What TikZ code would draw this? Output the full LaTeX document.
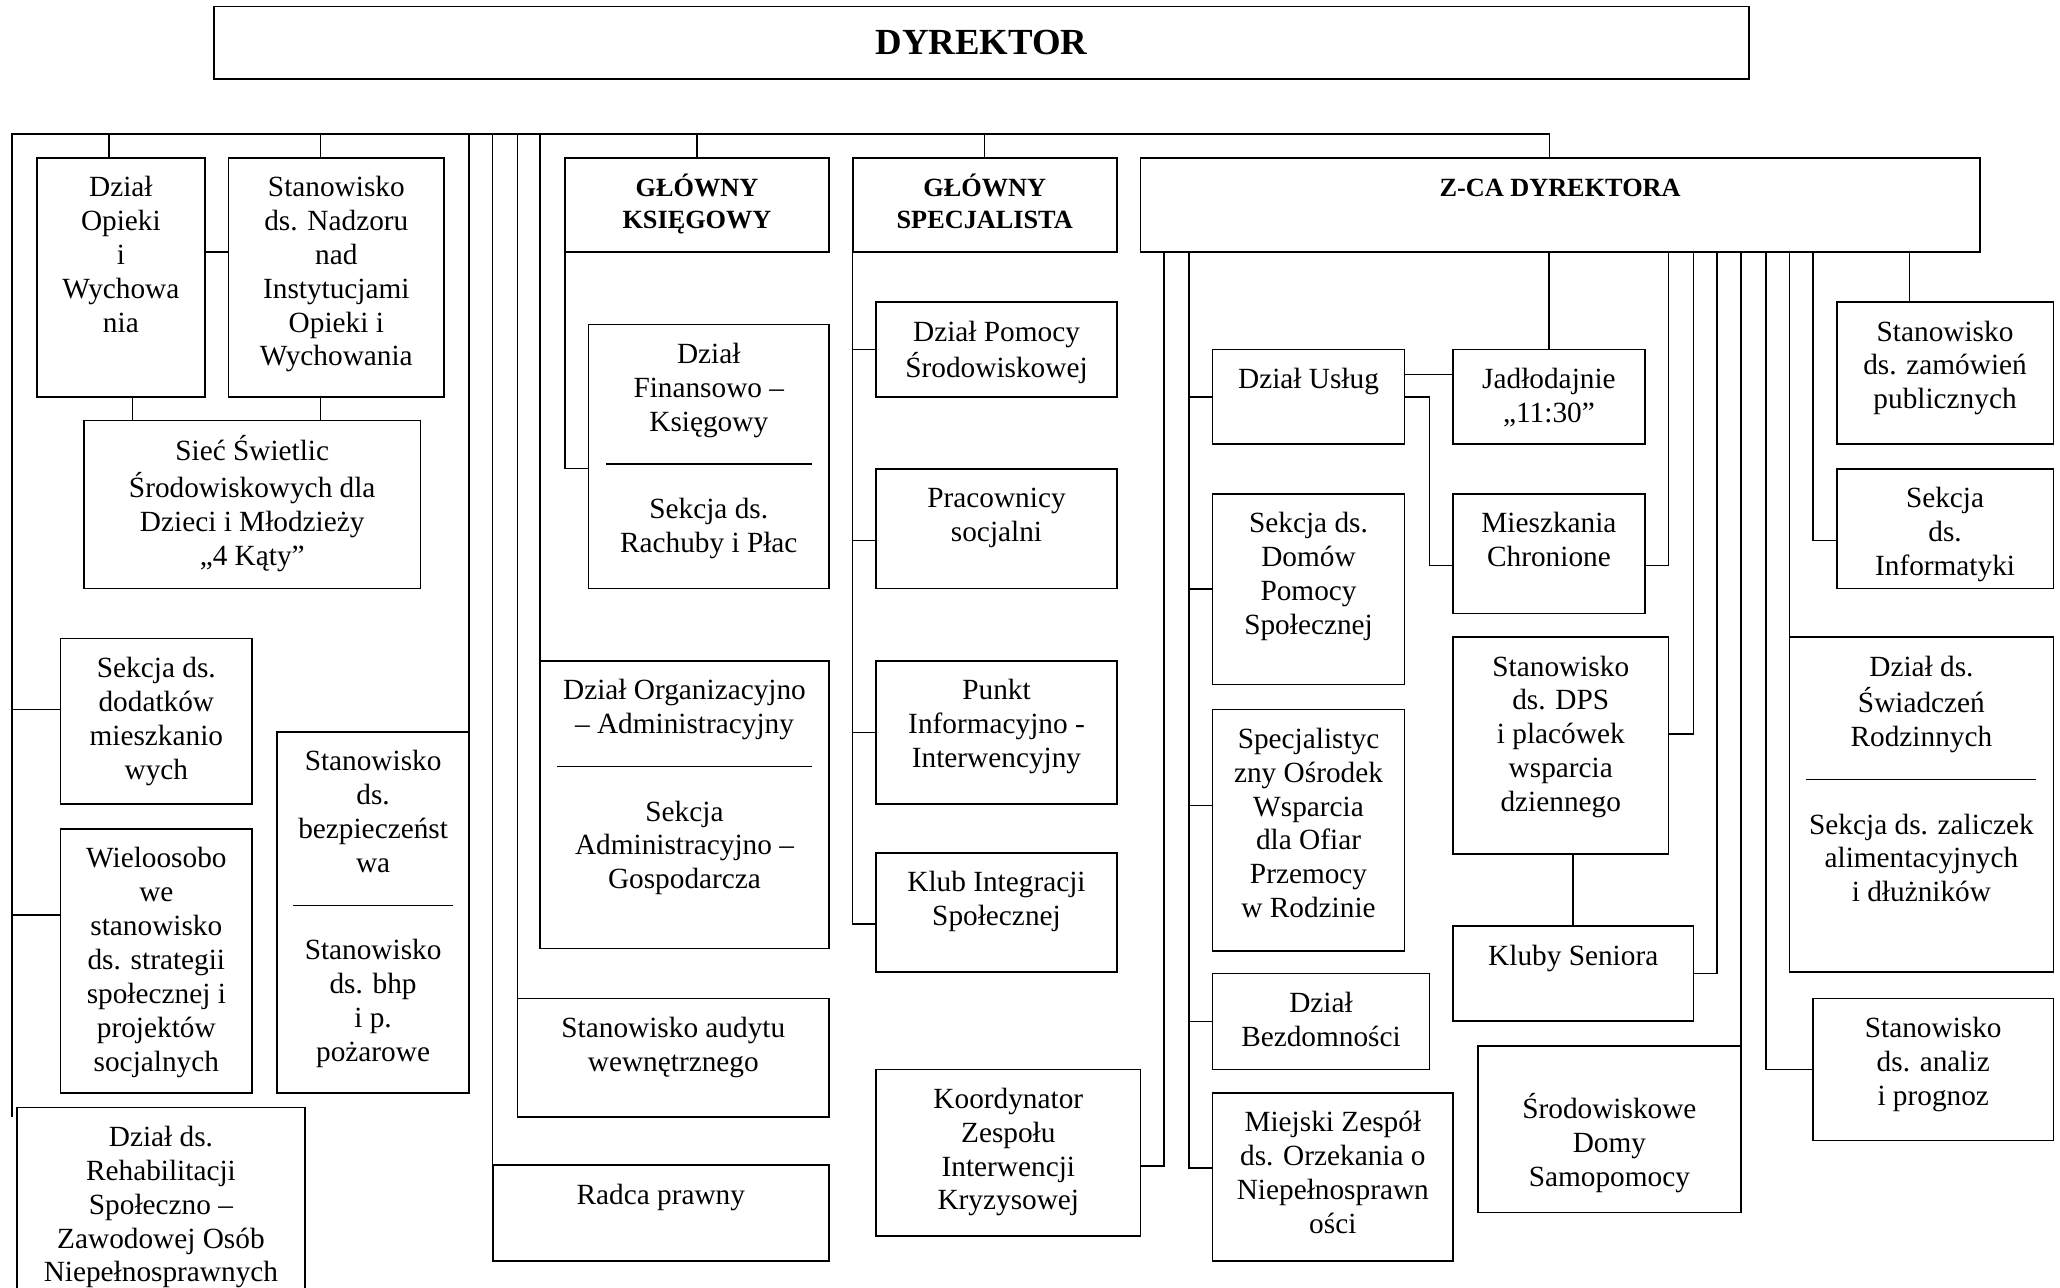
\documentclass[tikz,border=0pt]{standalone}
\usepackage{fontspec}
\setmainfont{Liberation Serif}
\tikzset{
	box/.style={rectangle, draw=black, line width=1.3pt, inner sep=0pt, outer sep=0pt, anchor=north west},
	link/.style={line width=1.2pt},
}
% text from the top of a box: [gap]{width}{height}{lines}
\newcommand{\bx}[4][11.5pt]{\parbox[c][#3][t]{#2}{\centering\vspace*{#1}\strut #4}}
\newcommand{\divrule}[1]{\\\rule{#1}{1.2pt}\\[15pt]}

\begin{document}
\begin{tikzpicture}[x=1pt, y=-1pt, every node/.style={font=\fontsize{22.3}{25.8}\selectfont}]
\useasboundingbox (0,0) rectangle (1568,980);

\node [box] (dyr) at (163,5) {\bx[18pt]{1168pt}{55pt}{\bfseries\fontsize{28}{33}\selectfont DYREKTOR}};

% left part
\node [box] (opieka) at (28,120) {\bx{128pt}{182pt}{Dział\\Opieki\\i\\Wychowa\\nia}};
\node [box] (nadzor) at (174,120) {\bx{164pt}{182pt}{Stanowisko\\ds. Nadzoru\\nad\\Instytucjami\\Opieki i\\Wychowania}};
\node [box] (swietlice) at (64,320) {\bx{256pt}{128pt}{Sieć Świetlic\\Środowiskowych dla\\Dzieci i Młodzieży\\„4 Kąty”}};
\node [box] (dodatki) at (46,486) {\bx{146pt}{126pt}{Sekcja ds.\\dodatków\\mieszkanio\\wych}};
\node [box] (strategia) at (46,631) {\bx{146pt}{201pt}{Wieloosobo\\we\\stanowisko\\ds. strategii\\społecznej i\\projektów\\socjalnych}};
\node [box] (bezp) at (211,557) {\bx{146pt}{275pt}{Stanowisko\\ds.\\bezpieczeńst\\wa\divrule{122pt}Stanowisko\\ds. bhp\\i p.\\pożarowe}};
\node [box] (rehab) at (13,843) {\bx{219pt}{147pt}{Dział ds.\\Rehabilitacji\\Społeczno –\\Zawodowej Osób\\Niepełnosprawnych}};

% middle part
\node [box] (ksieg) at (430,120) {\bx{201pt}{72pt}{\bfseries\fontsize{20}{24}\selectfont GŁÓWNY\\KSIĘGOWY}};
\node [box] (finanse) at (448,247) {\bx{183pt}{201pt}{Dział\\Finansowo –\\Księgowy\divrule{157pt}Sekcja ds.\\Rachuby i Płac}};
\node [box] (organiz) at (411,503) {\bx{220pt}{219pt}{Dział Organizacyjno\\– Administracyjny\divrule{194pt}Sekcja\\Administracyjno –\\Gospodarcza}};
\node [box] (audyt) at (394,760) {\bx{237pt}{90pt}{Stanowisko audytu\\wewnętrznego}};
\node [box] (radca) at (375,887) {\bx{256pt}{73pt}{Radca prawny}};

\node [box] (spec) at (649,120) {\bx{201pt}{72pt}{\bfseries\fontsize{20}{24}\selectfont GŁÓWNY\\SPECJALISTA}};
\node [box] (pomoc) at (667,230) {\bx{183pt}{72pt}{Dział Pomocy\\Środowiskowej}};
\node [box] (pracownicy) at (667,357) {\bx{183pt}{91pt}{Pracownicy\\socjalni}};
\node [box] (punkt) at (667,503) {\bx{183pt}{109pt}{Punkt\\Informacyjno -\\Interwencyjny}};
\node [box] (klub) at (667,649) {\bx{183pt}{91pt}{Klub Integracji\\Społecznej}};
\node [box] (koord) at (667,814) {\bx{201pt}{127pt}{Koordynator\\Zespołu\\Interwencji\\Kryzysowej}};

% deputy and below
\node [box] (zca) at (868,120) {\bx{639pt}{72pt}{\bfseries\fontsize{20}{24}\selectfont Z-CA DYREKTORA}};
\node [box] (uslugi) at (923,266) {\bx{146pt}{72pt}{Dział Usług}};
\node [box] (domy) at (923,376) {\bx{146pt}{145pt}{Sekcja ds.\\Domów\\Pomocy\\Społecznej}};
\node [box] (osrodek) at (923,540) {\bx{146pt}{184pt}{Specjalistyc\\zny Ośrodek\\Wsparcia\\dla Ofiar\\Przemocy\\w Rodzinie}};
\node [box] (bezdom) at (923,741) {\bx{165pt}{73pt}{Dział\\Bezdomności}};
\node [box] (miejski) at (923,832) {\bx{183pt}{128pt}{Miejski Zespół\\ds. Orzekania o\\Niepełnosprawn\\ości}};
\node [box] (jadlo) at (1106,266) {\bx{146pt}{72pt}{Jadłodajnie\\„11:30”}};
\node [box] (mieszk) at (1106,376) {\bx{146pt}{91pt}{Mieszkania\\Chronione}};
\node [box] (dps) at (1106,485) {\bx{164pt}{165pt}{Stanowisko\\ds. DPS\\i placówek\\wsparcia\\dziennego}};
\node [box] (kluby) at (1106,705) {\bx{183pt}{72pt}{Kluby Seniora}};
\node [box] (sds) at (1125,796) {\bx[36pt]{200pt}{127pt}{Środowiskowe\\Domy\\Samopomocy}};

% right part
\node [box] (zamow) at (1398,230) {\bx{165pt}{108pt}{Stanowisko\\ds. zamówień\\publicznych}};
\node [box] (inform) at (1398,357) {\bx{165pt}{91pt}{Sekcja\\ds.\\Informatyki}};
\node [box] (swiadcz) at (1362,485) {\bx{201pt}{255pt}{Dział ds.\\Świadczeń\\Rodzinnych\divrule{175pt}Sekcja ds. zaliczek\\alimentacyjnych\\i dłużników}};
\node [box] (analiz) at (1380,760) {\bx{183pt}{108pt}{Stanowisko\\ds. analiz\\i prognoz}};

% main line
\coordinate (lft) at (9,102);
\draw[link] ([xshift=-4pt,yshift=-7pt]rehab.north west) -- (lft) -| ([xshift=-8pt]zca.north);
\draw[link] ([xshift=-9pt]opieka.north) -- ([xshift=-9pt]opieka.north |- lft);
\draw[link] ([xshift=-12pt]nadzor.north) -- ([xshift=-12pt]nadzor.north |- lft);
\draw[link] (bezp.north east) -- (bezp.north east |- lft);
\draw[link] (radca.north west) -- (radca.north west |- lft);
\draw[link] (audyt.north west) -- (audyt.north west |- lft);
\draw[link] (organiz.north west) -- (organiz.north west |- lft);
\draw[link] (ksieg.north) -- (ksieg.north |- lft);
\draw[link] (spec.north) -- (spec.north |- lft);

% left branches
\draw[link] ([yshift=9pt]dodatki.west) -- ([yshift=9pt]dodatki.west -| lft);
\draw[link] ([yshift=35pt]strategia.west) -- ([yshift=35pt]strategia.west -| lft);
\draw[link] ([yshift=19pt]opieka.east) -- ([yshift=19pt]nadzor.west);
\draw[link] ([xshift=9pt]opieka.south) -- ([xshift=9pt]opieka.south |- swietlice.north);
\draw[link] ([xshift=-12pt]nadzor.south) -- ([xshift=-12pt]nadzor.south |- swietlice.north);

% accountant and specialist
\draw[link] (ksieg.south west) |- ([yshift=-9pt]finanse.west);
\draw[link] (spec.south west) |- ([yshift=-9pt]klub.west);
\draw[link] (pomoc.west) -- (pomoc.west -| spec.south west);
\draw[link] ([yshift=-9pt]pracownicy.west) -- ([yshift=-9pt]pracownicy.west -| spec.south west);
\draw[link] (punkt.west) -- (punkt.west -| spec.south west);

% deputy, left side
\draw[link] ([xshift=18pt]zca.south west) |- ([yshift=-10pt]koord.east);
\coordinate (ztrunk) at ([xshift=37pt]zca.south west);
\draw[link] (ztrunk) |- ([yshift=7pt]miejski.west);
\draw[link] (uslugi.west) -- (uslugi.west -| ztrunk);
\draw[link] (domy.west) -- (domy.west -| ztrunk);
\draw[link] ([yshift=19pt]osrodek.west) -- ([yshift=19pt]osrodek.west -| ztrunk);
\draw[link] (bezdom.west) -- (bezdom.west -| ztrunk);

% services
\draw[link] ([yshift=17pt]uslugi.east) -- ([yshift=17pt]uslugi.east -| jadlo.west);
\draw[link] (uslugi.east) -| ([xshift=-18pt,yshift=-9pt]mieszk.west) -- ([yshift=-9pt]mieszk.west);
\draw[link] (jadlo.north) -- (jadlo.north |- zca.south);

% deputy, right side
\draw[link] ([yshift=-9pt]mieszk.east) -| (dps.east |- zca.south);
\draw[link] ([yshift=9pt]dps.east) -| (kluby.east |- zca.south);
\draw[link] (kluby.north) -- (kluby.north |- dps.south);
\draw[link] (kluby.east) -| ([xshift=18pt]kluby.east |- zca.south);
\draw[link] (sds.north east) -- (sds.north east |- zca.south);
\draw[link] (analiz.west) -| ([xshift=-36pt]analiz.west |- zca.south);
\draw[link] (swiadcz.north west) -- (swiadcz.north west |- zca.south);
\draw[link] ([yshift=-9pt]inform.west) -| ([xshift=-18pt]inform.west |- zca.south);
\draw[link] ([xshift=-27pt]zamow.north) -- ([xshift=-27pt]zamow.north |- zca.south);
\end{tikzpicture}
\end{document}
